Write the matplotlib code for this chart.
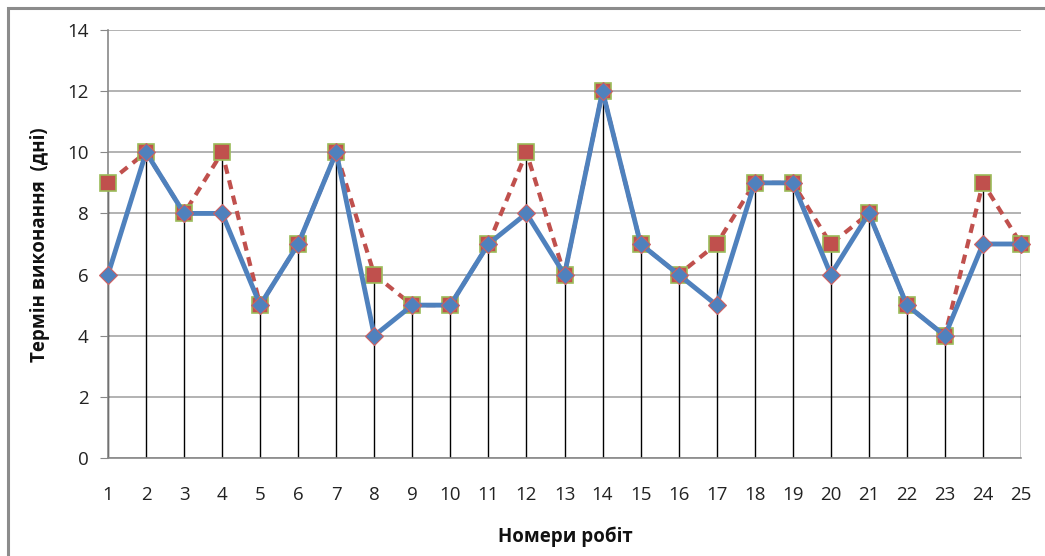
import matplotlib
matplotlib.use("Agg")
import matplotlib.pyplot as plt
from matplotlib.patches import Rectangle
import numpy as np

works = list(range(1, 26))
planned = [6, 10, 8, 8, 5, 7, 10, 4, 5, 5, 7, 8, 6, 12, 7, 6, 5, 9, 9, 6, 8, 5, 4, 7, 7]
actual = [9, 10, 8, 10, 5, 7, 10, 6, 5, 5, 7, 10, 6, 12, 7, 6, 7, 9, 9, 7, 8, 5, 4, 9, 7]
yticks = [0, 2, 4, 6, 8, 10, 12, 14]
xlabel = "Номери робіт"
ylabel = "Термін виконання  (дні)"

plt.rcParams['font.family'] = ['Open Sans', 'DejaVu Sans']

W, H = 1045, 556
fig = plt.figure(figsize=(W / 100, H / 100), dpi=100)
ax = fig.add_axes([108 / W, 1 - 458 / H, (1021 - 108) / W, (458 - 30) / H])

# outer frame
fig.patches.append(Rectangle((8 / W, -0.05), 1.2, 1 - 8 / H + 0.05, transform=fig.transFigure,
                             fill=False, edgecolor='#8c8c8c', linewidth=2.2, zorder=0))

ax.set_xlim(1, 25)
ax.set_ylim(0, 14)
ax.set_yticks(yticks)
ax.set_xticks(works)
ax.yaxis.grid(True, color='#a6a6a6', linewidth=1.2, zorder=0)
ax.set_axisbelow(True)
for s in ['top', 'right']:
    ax.spines[s].set_visible(False)
for s in ['left', 'bottom']:
    ax.spines[s].set_color('#888888')
    ax.spines[s].set_linewidth(1.2)
ax.tick_params(axis='y', length=6, color='#888888', labelsize=13.5, pad=8, labelcolor='#222222')
ax.tick_params(axis='x', length=0, labelsize=13.5, pad=20, labelcolor='#222222')

tops = [max(a, b) for a, b in zip(planned, actual)]
ax.vlines(works, 0, tops, colors='black', linewidth=1.0, zorder=2)

ax.plot(works, actual, color='#C0504D', linestyle=(0, (2.2, 1.6)), linewidth=3.0,
        marker='s', markersize=11, markerfacecolor='#C0504D', markeredgecolor='#9BBB59',
        markeredgewidth=1.2, zorder=3, clip_on=False)
ax.plot(works, planned, color='#4F81BD', linestyle='-', linewidth=3.5,
        marker='D', markersize=9, markerfacecolor='#4F81BD', markeredgecolor='#D06060',
        markeredgewidth=0.8, zorder=4, clip_on=False)

fig.text(565 / W, 1 - 537 / H, xlabel, ha='center', va='center', fontsize=13.5, fontweight='bold', color='#111111')
fig.text(40 / W, 1 - 245 / H, ylabel, ha='center', va='center', rotation=90, fontsize=13.5, fontweight='bold', color='#111111')

fig.savefig("out.png", dpi=100)
